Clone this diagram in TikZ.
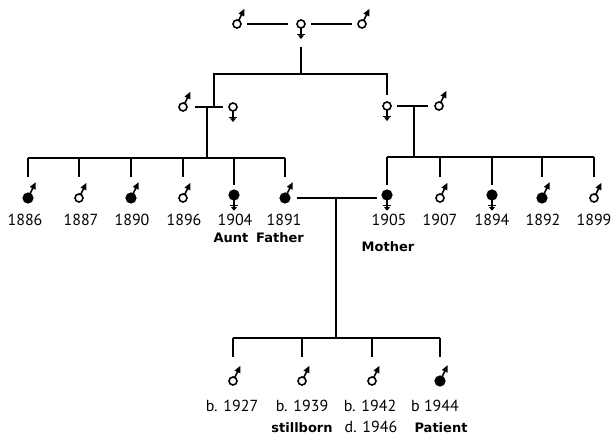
\documentclass[tikz,border=0pt]{standalone}
\usepackage{fontspec}
\setmainfont{PT Sans}
\newfontfamily\labfont{DejaVu Sans}
\usetikzlibrary{arrows.meta}
\begin{document}
\begin{tikzpicture}[x=1pt,y=-1pt,
  ln/.style={line width=1.6pt},
  sym/.style={circle,draw,line width=1.6pt,minimum size=8pt,inner sep=0pt,outer sep=0pt},
  symopen/.style={sym,fill=white},
  symfill/.style={sym,fill=black,minimum size=9.5pt},
  symdot/.style={sym,fill=white,path picture={\fill (path picture bounding box.center) circle (1.5pt);}},
  marrow/.style={line width=1.6pt,-{Triangle[length=7pt,width=6pt]}},
  farrow/.style={line width=1.6pt,-{Triangle[length=3.5pt,width=5.5pt]}},
  yr/.style={font=\fontsize{16}{18}\selectfont,inner sep=0pt,anchor=base},
  lab/.style={font=\labfont\fontsize{13}{15}\selectfont\bfseries,inner sep=0pt,anchor=base}]
\useasboundingbox (0,0) rectangle (612,435);
% generation I
\node[symopen] (A) at (237,24) {};
\node[symopen] (B) at (301,24) {};
\node[symopen] (C) at (362,24) {};
% generation II
\node[symopen] (D) at (183,107) {};
\node[symopen] (E) at (233,107) {};
\node[symopen] (F) at (387,106) {};
\node[symopen] (G) at (439,106) {};
% generation III left
\node[symfill] (c1) at (28,198) {};
\node[symopen] (c2) at (79,198) {};
\node[symfill] (c3) at (131,198) {};
\node[symopen] (c4) at (183,198) {};
\node[symfill] (c5) at (234,195) {};
\node[symfill] (fa) at (285,198) {};
% generation III right
\node[symfill] (mo) at (387,195) {};
\node[symopen] (r2) at (440,198) {};
\node[symfill] (r3) at (492,195) {};
\node[symfill] (r4) at (542,198) {};
\node[symopen] (r5) at (594,198) {};
% generation IV
\node[symdot] (k1) at (233,381) {};
\node[symopen] (k2) at (302,381) {};
\node[symopen] (k3) at (372,381) {};
\node[symfill] (k4) at (440,381) {};
% sex marks
\foreach \n in {A,C,D,G,c1,c2,c3,c4,fa,r2,r4,r5,k1,k2,k3,k4}
  \draw[marrow] (\n.64) -- ++(64:13pt);
\foreach \n in {B,E,F,c5,mo,r3}{
  \draw[farrow] (\n.south) -- ++(0pt,-11pt);
  \draw[ln] ([yshift=-10.5pt]\n.center) ++(-3.8pt,0pt) -- ++(7.6pt,0pt);
}
% coordinates
\coordinate (Bd) at (301,47);
\coordinate (J1r) at (387,74);
\coordinate (M1) at (214,107);
\coordinate (M2) at (207,107);
\coordinate (J2) at (207,158);
\coordinate (M3) at (414,106);
\coordinate (J3) at (414,157);
\coordinate (J4) at (336,198);
\coordinate (J5) at (336,338);
% connectors
\draw[ln,shorten <=6pt,shorten >=9pt] (A) -- (B);
\draw[ln,shorten <=6pt,shorten >=6pt] (B) -- (C);
\draw[ln] (Bd) -- (B |- J1r);
\draw[ln] (M1) |- (J1r) -- ([yshift=11pt]F.center);
\draw[ln,shorten <=8pt,shorten >=6pt] (D) -- (E);
\draw[ln,shorten <=6pt,shorten >=7pt] (F) -- (G);
\draw[ln] (M2) -- (J2);
\draw[ln] (c1 |- J2) -- (fa |- J2);
\foreach \n in {c1,c2,c3,c4,fa} \draw[ln] (\n |- J2) -- ([yshift=21pt]\n.center);
\draw[ln] (c5 |- J2) -- ([yshift=10pt]c5.center);
\draw[ln] (M3) -- (J3);
\draw[ln] (mo |- J3) -- (r5 |- J3);
\foreach \n in {r2,r4,r5} \draw[ln] (\n |- J3) -- ([yshift=21pt]\n.center);
\foreach \n in {mo,r3} \draw[ln] (\n |- J3) -- ([yshift=10pt]\n.center);
\draw[ln,shorten <=7pt,shorten >=10pt] (fa) -- (fa -| mo);
\draw[ln] (J4) -- (J5);
\draw[ln] (k1 |- J5) -- (k4 |- J5);
\foreach \n in {k1,k2,k3,k4} \draw[ln] (\n |- J5) -- ([yshift=24pt]\n.center);
% labels
\node[yr] (t1) at (25,226) {1886};
\node[yr] (t2) at (81,226) {1887};
\node[yr] (t3) at (132,226) {1890};
\node[yr] (t4) at (184,226) {1896};
\node[yr] (t5) at (235,226) {1904};
\node[yr] (t6) at (284,226) {1891};
\node[yr] (t7) at (389,226) {1905};
\node[yr] (t8) at (440,226) {1907};
\node[yr] (t9) at (492,226) {1894};
\node[yr] (t10) at (543,226) {1892};
\node[yr] (t11) at (594,226) {1899};
\node[lab] (l1) at (231,243) {Aunt};
\node[lab] (l2) at (280,243) {Father};
\node[lab] (l3) at (388,252) {Mother};
\node[yr] (b1) at (232,411) {b. 1927};
\node[yr] (b2) at (302,411) {b. 1939};
\node[yr] (b3) at (370,411) {b. 1942};
\node[yr] (b4) at (435,411) {b 1944};
\node[lab] (s2) at (302,432) {stillborn};
\node[yr] (s3) at (371,432) {d. 1946};
\node[lab] (s4) at (441,432) {Patient};
\end{tikzpicture}
\end{document}
